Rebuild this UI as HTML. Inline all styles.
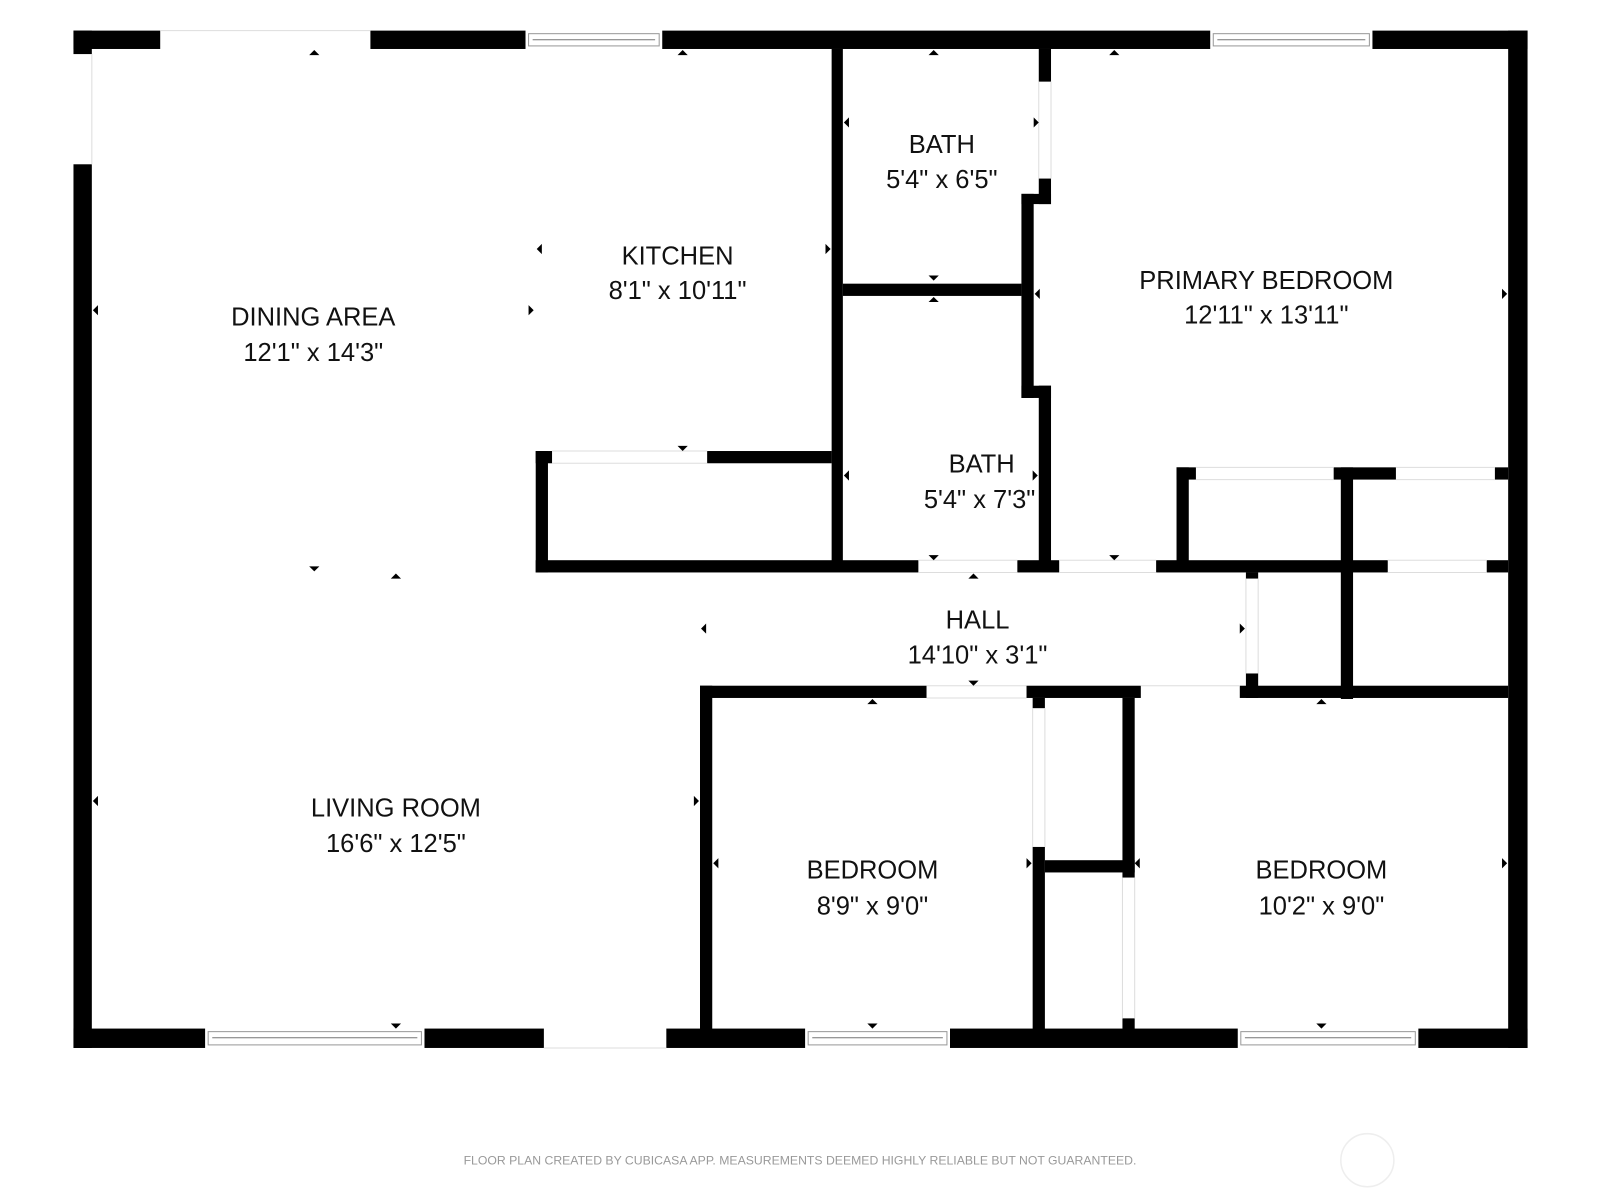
<!DOCTYPE html>
<html><head><meta charset="utf-8"><style>
html,body{margin:0;padding:0;background:#fff;width:1600px;height:1200px;overflow:hidden}
svg{display:block}
text{font-family:"Liberation Sans",sans-serif;fill:#111;text-anchor:middle}
</style></head><body>
<svg width="1600" height="1200" viewBox="0 0 1568 1176" xmlns="http://www.w3.org/2000/svg">
<g fill="#000">
<rect x="72" y="30" width="85" height="18"/>
<rect x="363" y="30" width="152" height="18"/>
<rect x="649" y="30" width="537" height="18"/>
<rect x="1345" y="30" width="152" height="18"/>
<rect x="72" y="30" width="18" height="23"/>
<rect x="72" y="161" width="18" height="866"/>
<rect x="1478" y="30" width="19" height="997"/>
<rect x="72" y="1008" width="129" height="19"/>
<rect x="416" y="1008" width="117" height="19"/>
<rect x="653" y="1008" width="136" height="19"/>
<rect x="931" y="1008" width="282" height="19"/>
<rect x="1390" y="1008" width="107" height="19"/>
<rect x="815" y="48" width="11" height="512"/>
<rect x="1018" y="48" width="12" height="32"/>
<rect x="1018" y="175" width="12" height="25"/>
<rect x="1001" y="190" width="29" height="10"/>
<rect x="1001" y="190" width="12" height="200"/>
<rect x="1001" y="378" width="29" height="12"/>
<rect x="1018" y="378" width="12" height="172"/>
<rect x="826" y="278" width="175" height="12"/>
<rect x="525" y="442" width="16" height="12"/>
<rect x="693" y="442" width="122" height="12"/>
<rect x="525" y="442" width="12" height="119"/>
<rect x="525" y="549" width="375" height="12"/>
<rect x="997" y="549" width="41" height="12"/>
<rect x="1133" y="549" width="227" height="12"/>
<rect x="1457" y="549" width="21" height="12"/>
<rect x="1153" y="458" width="12" height="97"/>
<rect x="1153" y="458" width="19" height="12"/>
<rect x="1307" y="458" width="61" height="12"/>
<rect x="1465" y="458" width="13" height="12"/>
<rect x="1314" y="458" width="12" height="227"/>
<rect x="686" y="672" width="222" height="12"/>
<rect x="1006" y="672" width="112" height="12"/>
<rect x="1215" y="672" width="263" height="12"/>
<rect x="1221" y="561" width="12" height="6"/>
<rect x="1221" y="660" width="12" height="24"/>
<rect x="686" y="672" width="12" height="338"/>
<rect x="1012" y="684" width="12" height="10"/>
<rect x="1012" y="830" width="12" height="180"/>
<rect x="1024" y="843" width="88" height="12"/>
<rect x="1100" y="684" width="12" height="176"/>
<rect x="1100" y="998" width="12" height="12"/>
</g>
<g fill="#fff" stroke="#999" stroke-width="1">
<rect x="518" y="33" width="128" height="12"/>
<rect x="1189" y="33" width="153" height="12"/>
<rect x="204" y="1011" width="209" height="13"/>
<rect x="792" y="1011" width="136" height="13"/>
<rect x="1216" y="1011" width="171" height="13"/>
</g>
<g stroke="#777" stroke-width="1" fill="none">
<line x1="522" y1="39" x2="642" y2="39"/>
<line x1="1193" y1="39" x2="1338" y2="39"/>
<line x1="208" y1="1017" x2="409" y2="1017"/>
<line x1="796" y1="1017" x2="924" y2="1017"/>
<line x1="1220" y1="1017" x2="1383" y2="1017"/>
</g>
<g stroke="#ddd" stroke-width="1" fill="none">
<line x1="157" y1="30" x2="363" y2="30"/>
<line x1="90" y1="53" x2="90" y2="161"/>
<line x1="541" y1="442" x2="693" y2="442"/><line x1="541" y1="454" x2="693" y2="454"/>
<line x1="900" y1="549" x2="997" y2="549"/><line x1="900" y1="561" x2="997" y2="561"/>
<line x1="1038" y1="549" x2="1133" y2="549"/><line x1="1038" y1="561" x2="1133" y2="561"/>
<line x1="1360" y1="549" x2="1457" y2="549"/><line x1="1360" y1="561" x2="1457" y2="561"/>
<line x1="1172" y1="458" x2="1307" y2="458"/><line x1="1172" y1="470" x2="1307" y2="470"/>
<line x1="1368" y1="458" x2="1465" y2="458"/><line x1="1368" y1="470" x2="1465" y2="470"/>
<line x1="1221" y1="567" x2="1221" y2="660"/><line x1="1233" y1="567" x2="1233" y2="660"/>
<line x1="1018" y1="80" x2="1018" y2="175"/><line x1="1030" y1="80" x2="1030" y2="175"/>
<line x1="908" y1="672" x2="1006" y2="672"/><line x1="908" y1="684" x2="1006" y2="684"/>
<line x1="1012" y1="694" x2="1012" y2="830"/><line x1="1024" y1="694" x2="1024" y2="830"/>
<line x1="1100" y1="860" x2="1100" y2="998"/><line x1="1112" y1="860" x2="1112" y2="998"/>
<line x1="1118" y1="672" x2="1215" y2="672"/>
<line x1="533" y1="1027" x2="653" y2="1027"/>
</g>
<g fill="#000">
<path d="M303,54 l5,-5 l5,5z"/><path d="M664,54 l5,-5 l5,5z"/><path d="M910,54 l5,-5 l5,5z"/><path d="M1087,54 l5,-5 l5,5z"/>
<path d="M664,437 l5,5 l5,-5z"/><path d="M303,555 l5,5 l5,-5z"/><path d="M383,567 l5,-5 l5,5z"/>
<path d="M910,544 l5,5 l5,-5z"/><path d="M1087,544 l5,5 l5,-5z"/><path d="M949,567 l5,-5 l5,5z"/>
<path d="M949,667 l5,5 l5,-5z"/><path d="M850,690 l5,-5 l5,5z"/><path d="M1290,690 l5,-5 l5,5z"/>
<path d="M383,1003 l5,5 l5,-5z"/><path d="M850,1003 l5,5 l5,-5z"/><path d="M1290,1003 l5,5 l5,-5z"/>
<path d="M910,270 l5,5 l5,-5z"/><path d="M910,296 l5,-5 l5,5z"/>
<path d="M96,299 l-5,5 l5,5z"/><path d="M96,780 l-5,5 l5,5z"/><path d="M531,239 l-5,5 l5,5z"/>
<path d="M518,299 l5,5 l-5,5z"/><path d="M809,239 l5,5 l-5,5z"/><path d="M832,115 l-5,5 l5,5z"/>
<path d="M1013,115 l5,5 l-5,5z"/><path d="M1019,283 l-5,5 l5,5z"/><path d="M1472,283 l5,5 l-5,5z"/>
<path d="M832,461 l-5,5 l5,5z"/><path d="M1012,461 l5,5 l-5,5z"/><path d="M692,611 l-5,5 l5,5z"/>
<path d="M1215,611 l5,5 l-5,5z"/><path d="M680,780 l5,5 l-5,5z"/><path d="M704,841 l-5,5 l5,5z"/>
<path d="M1006,841 l5,5 l-5,5z"/><path d="M1117,841 l-5,5 l5,5z"/><path d="M1472,841 l5,5 l-5,5z"/>
</g>
<g font-size="25">
<text x="307" y="319">DINING AREA</text><text x="307" y="354">12'1" x 14'3"</text>
<text x="664" y="259">KITCHEN</text><text x="664" y="293">8'1" x 10'11"</text>
<text x="923" y="150">BATH</text><text x="923" y="184">5'4" x 6'5"</text>
<text x="1241" y="283">PRIMARY BEDROOM</text><text x="1241" y="317">12'11" x 13'11"</text>
<text x="962" y="463">BATH</text><text x="960" y="498">5'4" x 7'3"</text>
<text x="958" y="616">HALL</text><text x="958" y="650">14'10" x 3'1"</text>
<text x="388" y="800">LIVING ROOM</text><text x="388" y="835">16'6" x 12'5"</text>
<text x="855" y="861">BEDROOM</text><text x="855" y="896">8'9" x 9'0"</text>
<text x="1295" y="861">BEDROOM</text><text x="1295" y="896">10'2" x 9'0"</text>
</g>
<text x="784" y="1141" font-size="12" style="fill:#999">FLOOR PLAN CREATED BY CUBICASA APP. MEASUREMENTS DEEMED HIGHLY RELIABLE BUT NOT GUARANTEED.</text>
<circle cx="1340" cy="1137" r="26" fill="none" stroke="#eee" stroke-width="1.5"/>
</svg>
</body></html>
